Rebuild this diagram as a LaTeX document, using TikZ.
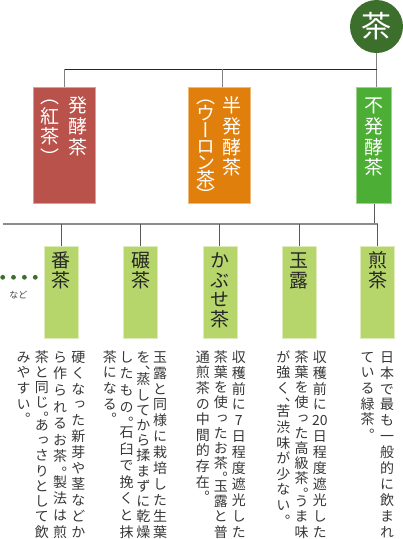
\documentclass[tikz,border=0pt]{standalone}
\usepackage{fontspec}
\usepackage{tikz}
\usetikzlibrary{positioning}
\newfontfamily\jpvert[RawFeature=+vert]{Noto Sans CJK JP}
\newfontfamily\jphor{Noto Sans CJK JP}
\definecolor{teagreen}{RGB}{60,110,44}
\definecolor{kouchared}{RGB}{184,82,74}
\definecolor{oolongorange}{RGB}{225,127,12}
\definecolor{fuhakkogreen}{RGB}{76,174,52}
\definecolor{leafgreen}{RGB}{182,213,107}
\definecolor{notegray}{RGB}{55,55,55}

% vertical text: one cell per character, columns set right to left
\newlength\vcw \newlength\vpitch \newlength\vcolh
\def\vendmark{\vend}
\def\vopenmark{（}
\def\vhalfa{）}\def\vhalfb{、}\def\vhalfc{。}
\newcommand\vcell[1]{\hbox to\vcw{\hss\vrule height.88em depth.12em width0pt\relax#1\hss}}
\def\vtl#1{\def\vtmp{#1}%
  \ifx\vtmp\vendmark\else
    \ifx\vtmp\vopenmark
      \vcell{\raisebox{.5em}{#1}}\vskip-.5\vpitch
    \else
      \vcell{#1}%
      \ifx\vtmp\vhalfa\vskip-.5\vpitch\fi
      \ifx\vtmp\vhalfb\vskip-.5\vpitch\fi
      \ifx\vtmp\vhalfc\vskip-.5\vpitch\fi
    \fi
    \expandafter\vtl
  \fi}
\newcommand\vcol[2][\vpitch]{\vtop{\vpitch=#1\relax\baselineskip=\vpitch
  \lineskip=0pt\lineskiplimit=-\maxdimen\vtl#2\vend}}
\newcommand\vjcol[1]{\vtop to\vcolh{\baselineskip=\dimexpr\vpitch\relax plus1fil minus1fil
  \lineskip=0pt\lineskiplimit=-\maxdimen\vtl#1\vend}}
\newcommand\labelfont{\jpvert\fontsize{19}{21}\selectfont\vcw=1em\vpitch=20.7pt}
\newcommand\notefont{\jpvert\fontsize{14}{16}\selectfont\vcw=1em\vpitch=15.6pt\vcolh=187pt}

\begin{document}
\begin{tikzpicture}[x=1pt, y=-1pt,
  root/.style={circle, fill=teagreen, text=white, inner sep=0pt,
    minimum size=53pt, font=\jphor\fontsize{30}{30}\selectfont},
  catbox/.style={rectangle, draw=#1!55!white, fill=#1, line width=.8pt,
    inner sep=0pt, minimum width=62pt, anchor=north, text=white, font=\labelfont},
  leafbox/.style={rectangle, draw=leafgreen!45!white, fill=leafgreen, line width=.8pt,
    inner sep=0pt, minimum width=34pt, anchor=north, text=black!85, font=\labelfont},
  note/.style={inner sep=0pt, text=notegray, font=\notefont},
  bar/.style={draw=black!85, line width=.9pt},
  drop/.style={draw=black!50, line width=1.1pt},
  rail/.style={draw=black!45, line width=2pt},
  twig/.style={draw=black!65, line width=1pt}
]
  \useasboundingbox (0,0) rectangle (403,539);

  \node[root] (cha) at (376.5,26.5) {茶};

  \node[catbox=kouchared] (hakko) at (64.3,86.7)
    {\vbox to116pt{\vskip9pt\hbox{\vcol{（紅茶）}\kern8.6pt\vcol{発酵茶}}\vss}};
  \node[catbox=oolongorange] (hanhakko) at (219.3,86.7)
    {\vbox to116pt{\vskip9pt\hbox{\vcol[16.3pt]{（ウーロン茶）}\kern7pt\vcol{半発酵茶}}\vss}};
  \node[catbox=fuhakkogreen, minimum width=34.6pt] (fuhakko) at (374,86.7)
    {\vbox to116pt{\vskip9pt\hbox{\vcol{不発酵茶}}\vss}};

  \node[leafbox] (bancha) at (61.3,246)
    {\vbox to92pt{\vskip4.5pt\hbox{\vcol[19.8pt]{番茶}}\vss}};
  \node[leafbox, right=44.4pt of bancha] (tencha)
    {\vbox to92pt{\vskip4.5pt\hbox{\vcol[19.8pt]{碾茶}}\vss}};
  \node[leafbox, right=44.6pt of tencha] (kabuse)
    {\vbox to92pt{\vskip4.5pt\hbox{\vcol[19.5pt]{かぶせ茶}}\vss}};
  \node[leafbox, right=44.6pt of kabuse] (gyokuro)
    {\vbox to92pt{\vskip4.5pt\hbox{\vcol[19.8pt]{玉露}}\vss}};
  \node[leafbox, right=43.4pt of gyokuro] (sencha)
    {\vbox to92pt{\vskip4.5pt\hbox{\vcol[19.8pt]{煎茶}}\vss}};

  \node[note, below left=11pt and -7pt of bancha.south east] (bancha-note)
    {\vcol{みやすい。}\kern4.3pt\vjcol{茶と同じ。あっさりとして飲}\kern4.3pt
     \vjcol{ら作られるお茶。製法は煎}\kern4.3pt\vjcol{硬くなった新芽や茎などか}};
  \node[note, below left=11pt and -9.3pt of tencha.south east] (tencha-note)
    {\vcol{茶になる。}\kern2.7pt\vjcol{したもの。石臼で挽くと抹}\kern2.7pt
     \vjcol{を、蒸してから揉まずに乾燥}\kern2.7pt\vjcol{玉露と同様に栽培した生葉}};
  \node[note, below left=11pt and -8.7pt of kabuse.south east] (kabuse-note)
    {\vcol{通煎茶の中間的存在。}\kern4pt\vjcol{茶葉を使ったお茶。玉露と普}\kern4pt
     \vjcol{収穫前に7日程度遮光した}};
  \node[note, below left=11pt and -10.4pt of gyokuro.south east] (gyokuro-note)
    {\vcol{が強く、苦渋味が少ない。}\kern4.3pt\vjcol{茶葉を使った高級茶。うま味}\kern4.3pt
     \vjcol{収穫前に{20}日程度遮光した}};
  \node[note, below left=11pt and 0.7pt of sencha.south east] (sencha-note)
    {\vcol{ている緑茶。}\kern5.3pt\vjcol{日本で最も一般的に飲まれ}};

  \foreach \x in {2.7,13.5,24.4,35.3}
    \fill[teagreen] (\x,277.3) circle (2.4pt);
  \node[font=\jphor\fontsize{9}{9}\selectfont, text=black!75] (nado) at (18.3,295) {など};

  \coordinate (topbar) at (cha.south |- 0,69);
  \coordinate (midbar) at (3,224);
  \draw[drop] (cha.south) -- (cha.south |- fuhakko.north);
  \draw[bar] (hakko.north |- topbar) -- (topbar);
  \draw[drop] (hakko.north) -- (hakko.north |- topbar);
  \draw[drop] ([xshift=3pt]hanhakko.north) -- ([xshift=3pt]hanhakko.north |- topbar);
  \draw[twig] (fuhakko.south) -- (fuhakko.south |- midbar);
  \draw[rail] (midbar) -- (sencha.north |- midbar);
  \foreach \n in {bancha,tencha,kabuse,gyokuro,sencha}
    \draw[twig] (\n.north) -- (\n.north |- midbar);
\end{tikzpicture}
\end{document}
